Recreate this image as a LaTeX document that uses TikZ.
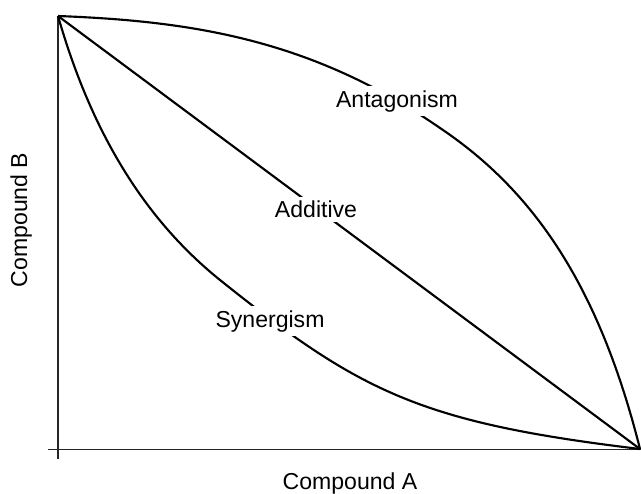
\documentclass[tikz,border=0pt]{standalone}
\usepackage{fontspec}
\setmainfont{Liberation Sans}
\tikzset{
  axisline/.style={line width=1.2pt,black!85},
  effectline/.style={line width=1.6pt,black},
  effectlabel/.style={fill=white,inner sep=3pt,anchor=base,font=\fontsize{17.3}{20}\selectfont},
  axislabel/.style={inner sep=0pt,anchor=base,font=\fontsize{17.3}{20}\selectfont}
}
\begin{document}
\begin{tikzpicture}[x=0.75pt,y=-0.75pt]
\useasboundingbox (0,0) rectangle (641,493);

\coordinate (B) at (58,16);
\coordinate (A) at (640,449);
\coordinate (Bfoot) at (58,459);
\coordinate (Aleft) at (48,449.5);
\coordinate (Aright) at (641,449.5);
\coordinate (antmid) at (440,128);
\coordinate (synmid) at (220,280);

\draw[axisline] (B) -- (Bfoot);
\draw[axisline] (Aleft) -- (Aright);

\draw[effectline] (B) -- (A);
\draw[effectline] (B) .. controls (188,21) and (310,38) .. (antmid)
  .. controls (534,191) and (599,286) .. (A);
\draw[effectline] (B) .. controls (93,138) and (148,222) .. (synmid)
  .. controls (360,392) and (420,422.6) .. (A);

\node[effectlabel] (ant) at (397,107) {Antagonism};
\node[effectlabel] (add) at (316,217.5) {Additive};
\node[effectlabel] (syn) at (270,327) {Synergism};

\node[axislabel] (cpa) at (350,489.5) {Compound A};
\node[axislabel,rotate=90] (cpb) at (27,220) {Compound B};
\end{tikzpicture}
\end{document}
